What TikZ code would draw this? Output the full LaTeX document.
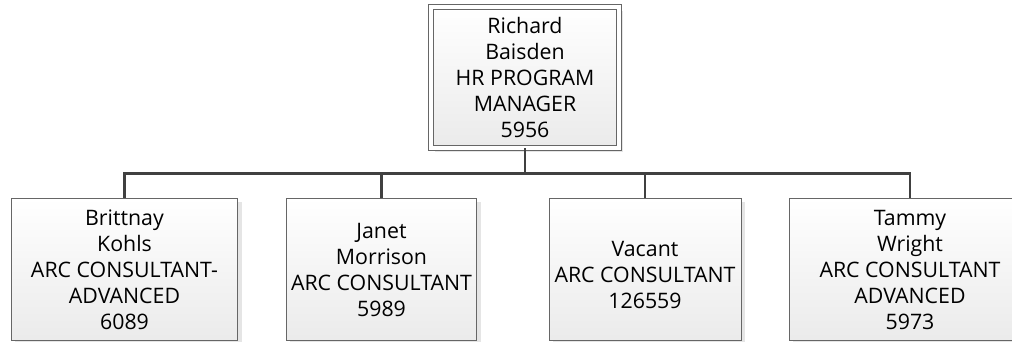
\documentclass[tikz,border=0pt]{standalone}
\usepackage{fontspec}
\setmainfont{Open Sans}
\usetikzlibrary{shadows,positioning}

\tikzset{
  person/.style={draw=black!60, line width=0.75pt, top color=white, bottom color=black!8,
    align=center, inner sep=0pt, minimum height=107pt,
    font=\fontsize{16}{19.5}\selectfont,
    drop shadow={shadow xshift=3pt, shadow yshift=-3pt, fill=black!10, opacity=1}},
  head/.style={person, double=white, double distance=3pt, minimum width=141pt, minimum height=105pt},
  link/.style={draw=black!75, line width=2pt}
}

\begin{document}
\begin{tikzpicture}[x=0.75pt,y=-0.75pt]
        \useasboundingbox (0,0) rectangle (1012,342);
        \clip (0,0) rectangle (1012,342);

        % Manager
        \node[head] (boss) at (525,77.5) {Richard\\Baisden\\HR PROGRAM\\MANAGER\\5956};

        % Staff
        \node[person, minimum width=170pt] (brittnay) at (124.5,269.5) {Brittnay\\Kohls\\ARC CONSULTANT-\\ADVANCED\\6089};
        \node[person, minimum width=143pt] (janet) at (381.5,269.5) {Janet\\Morrison\\ARC CONSULTANT\\5989};
        \node[person, minimum width=144pt] (vacant) at (645,269.5) {\mbox{}\\Vacant\\ARC CONSULTANT\\126559};
        \node[person, minimum width=181.5pt] (tammy) at (910,269.5) {Tammy\\Wright\\ARC CONSULTANT\\ADVANCED\\5973};

        % Connectors
        \coordinate (split) at (525,173.5);
        \draw[link] (boss.south) -- (split);
        \draw[link] (brittnay.north) -- (brittnay.north |- split) -- (tammy.north |- split) -- (tammy.north);
        \draw[link] (janet.north) -- (janet.north |- split);
        \draw[link] (vacant.north) -- (vacant.north |- split);
\end{tikzpicture}
\end{document}
